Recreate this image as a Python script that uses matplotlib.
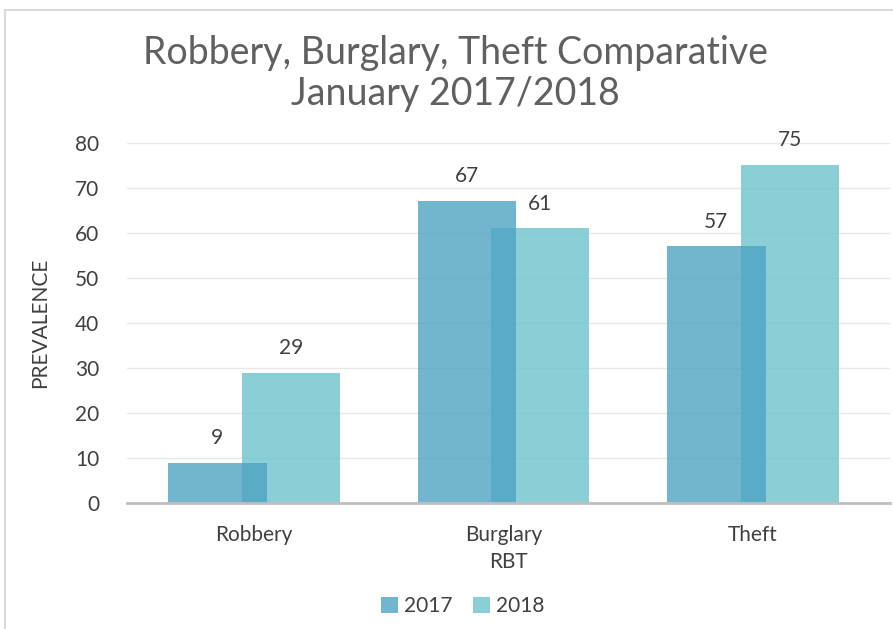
import matplotlib.pyplot as plt
import numpy as np
from matplotlib.patches import Rectangle

# Data
categories = ["Robbery", "Burglary", "Theft"]
values_2017 = [9, 67, 57]
values_2018 = [29, 61, 75]
years = ["2017", "2018"]

plt.rcParams['font.family'] = ['Lato', 'DejaVu Sans']

fig = plt.figure(figsize=(8.93, 6.29), dpi=100)
ax = fig.add_axes([0.142, 0.2, 0.855, 0.573])

# chart frame
fig.patches.append(Rectangle((0.006, -0.02), 1.1, 1.004, transform=fig.transFigure,
                             fill=False, edgecolor='#d9d9d9', linewidth=1.5))

x = np.arange(len(categories))
w = 0.394
off = 0.147
c17 = '#4fa3c3'
c18 = '#6cc3cb'
b17 = ax.bar(x - off, values_2017, w, color=c17, alpha=0.8, zorder=3, label=years[0])
b18 = ax.bar(x + off, values_2018, w, color=c18, alpha=0.8, zorder=2, label=years[1])

for bars in (b17, b18):
    for b in bars:
        ax.text(b.get_x() + b.get_width() / 2, b.get_height() + 3.3, str(int(b.get_height())),
                ha='center', va='bottom', fontsize=15, color='#404040')

ax.set_ylim(0, 80)
ax.set_xlim(-0.51, 2.55)
ax.set_yticks(range(0, 81, 10))
ax.set_xticks(x)
ax.set_xticklabels(categories)
ax.tick_params(length=0, labelsize=15, labelcolor='#404040', pad=20)
ax.tick_params(axis='x', pad=16)
ax.grid(axis='y', color='#e8e8e8', linewidth=1, zorder=0)
for s in ['top', 'right', 'left']:
    ax.spines[s].set_visible(False)
ax.spines['bottom'].set_color('#bfbfbf')
ax.spines['bottom'].set_linewidth(2)
ax.spines['bottom'].set_zorder(4)

ax.set_ylabel("PREVALENCE", fontsize=15, color='#404040', labelpad=18)
ax.set_xlabel("RBT", fontsize=15, color='#404040', labelpad=5)

fig.suptitle("Robbery, Burglary, Theft Comparative\nJanuary 2017/2018", x=0.51, y=0.945,
             fontsize=27, color='#606060', linespacing=1.2)

ax.legend(loc='upper center', bbox_to_anchor=(0.44, -0.205), ncol=2, frameon=False,
          fontsize=15, handlelength=0.8, handleheight=0.8, handletextpad=0.3,
          columnspacing=1.0, labelcolor='#404040')

fig.savefig("out.png", dpi=100)
